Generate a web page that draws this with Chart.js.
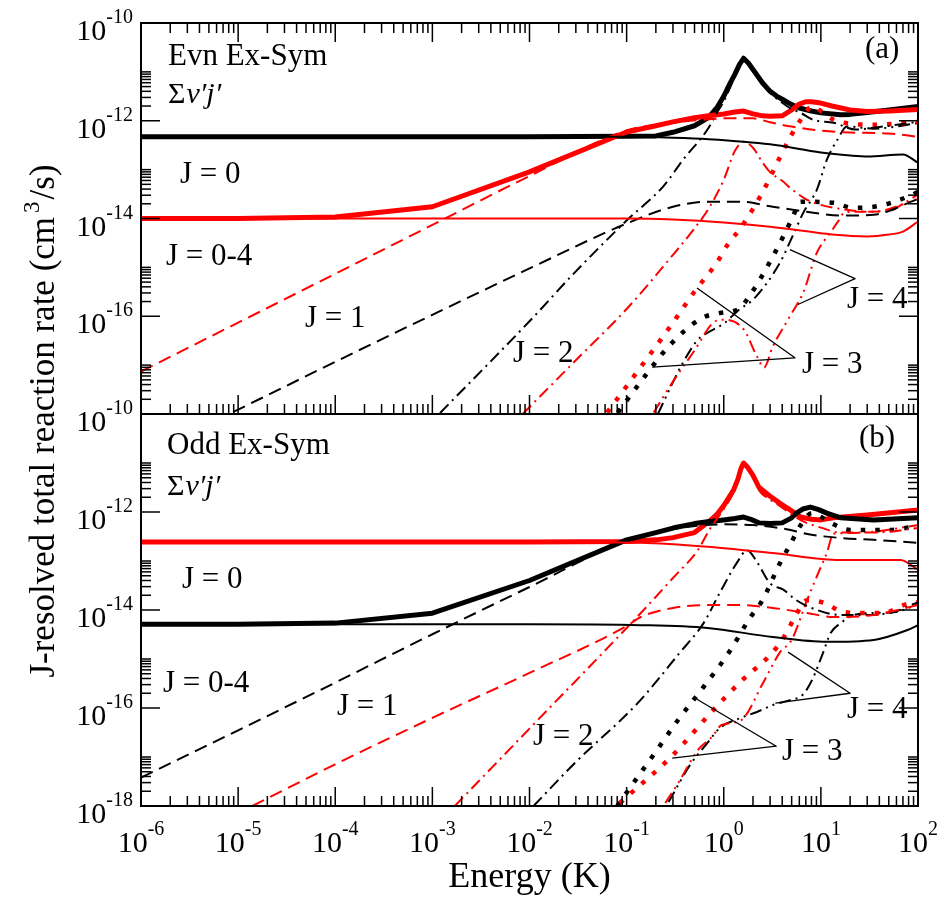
<!DOCTYPE html>
<html><head><meta charset="utf-8">
<script src="https://cdn.jsdelivr.net/npm/chart.js@4.4.1/dist/chart.umd.min.js"></script>
<style>
html,body{margin:0;padding:0;background:#fff;}
#wrap{position:relative;width:945px;height:898px;overflow:hidden;}
canvas{position:absolute;left:0;top:0;}
</style></head><body>
<div id="wrap"><canvas id="cA" width="945" height="898"></canvas><canvas id="cB" width="945" height="898"></canvas></div>
<script>
// ---------- axis ranges & tick labels ----------
const X_MIN = 1e-6, X_MAX = 1e2, Y_MIN = 1e-18, Y_MAX = 1e-10;
const xTickExps = [-6, -5, -4, -3, -2, -1, 0, 1, 2];
const yTickExpsTop = [-10, -12, -14, -16];
const yTickExpsBottom = [-10, -12, -14, -16, -18];

// ---------- panel (a) Evn Ex-Sym : [Energy (K), rate (cm^3/s)] ----------
const aTotBlack = [[1e-6,4.7e-13],[1e-5,4.7e-13],[1e-4,4.7e-13],[1e-3,4.7e-13],[1e-2,4.7e-13],[0.1,4.8e-13],[0.2,4.9e-13],[0.3,5.8e-13],[0.5,7.9e-13],[0.7,1.17e-12],[0.85,1.85e-12],[1,3.16e-12],[1.15,5.6e-12],[1.3,8.9e-12],[1.45,1.41e-11],[1.6,1.9e-11],[1.8,1.5e-11],[2,1.12e-11],[2.5,6.0e-12],[3,4.0e-12],[3.5,3.2e-12],[4,2.75e-12],[5,2.14e-12],[6,1.82e-12],[8,1.58e-12],[10,1.45e-12],[16,1.32e-12],[20,1.35e-12],[30,1.48e-12],[50,1.66e-12],[100,1.95e-12]];
const aTotRed = [[1e-6,1.0e-14],[1e-5,1.0e-14],[1e-4,1.07e-14],[1e-3,1.74e-14],[1e-2,9.0e-14],[0.1,5.9e-13],[0.2,7.9e-13],[0.3,9.5e-13],[0.5,1.15e-12],[0.7,1.26e-12],[1,1.38e-12],[1.3,1.51e-12],[1.6,1.58e-12],[2,1.38e-12],[2.5,1.26e-12],[3,1.23e-12],[4,1.26e-12],[5,1.66e-12],[6,2.19e-12],[7,2.45e-12],[8,2.45e-12],[10,2.3e-12],[13,2.0e-12],[20,1.66e-12],[30,1.55e-12],[50,1.58e-12],[100,1.7e-12]];
const aJ0Black = [[1e-6,4.7e-13],[1e-4,4.7e-13],[1e-2,4.7e-13],[0.1,4.7e-13],[0.3,4.5e-13],[0.7,4.2e-13],[3,3.3e-13],[10,2.24e-13],[20,1.95e-13],[30,1.86e-13],[70,2.04e-13],[100,1.38e-13]];
const aJ0Red = [[1e-6,1e-14],[1e-4,1e-14],[1e-2,1e-14],[0.1,1e-14],[0.3,9.5e-15],[1,8.3e-15],[3,6.8e-15],[10,5.0e-15],[13,4.7e-15],[30,4.3e-15],[50,4.7e-15],[70,5.4e-15],[100,8.7e-15]];
const aJ1Black = [[8.9e-6,1.1e-18],[1e-5,1.23e-18],[1e-4,1.17e-17],[1e-3,1.07e-16],[1e-2,9.5e-16],[0.1,7.9e-15],[0.3,1.74e-14],[0.7,2.2e-14],[1.5,2.2e-14],[3.2,1.74e-14],[7,1.38e-14],[16,1.15e-14],[35,1.2e-14],[100,2.5e-14]];
const aJ1Red = [[1e-6,7.4e-18],[1e-5,7.4e-17],[1e-4,7.4e-16],[1e-3,7.4e-15],[1e-2,7.4e-14],[0.1,6.3e-13],[0.3,9.1e-13],[0.7,1.07e-12],[1,1.12e-12],[2,1.12e-12],[3,9.3e-13],[5,7.6e-13],[10,6.3e-13],[20,5.75e-13],[50,5.5e-13],[100,4.7e-13]];
const aJ2Black = [[1.2e-3,1.05e-18],[1e-2,7.9e-17],[0.03,8.3e-16],[0.1,9.1e-15],[0.24,4.6e-14],[0.38,1.58e-13],[0.68,6.6e-13],[0.85,1.45e-12],[1,2.5e-12],[1.3,7.9e-12],[1.6,1.86e-11],[2,1.1e-11],[2.5,5.75e-12],[3,3.7e-12],[4,2.34e-12],[5,1.74e-12],[6.2,1.45e-12],[8.3,1.05e-12],[13.5,9.1e-13],[23,6.6e-13],[35,7.2e-13],[100,9.5e-13]];
const aJ2Red = [[0.0085,1e-18],[0.03,1.26e-17],[0.1,1.41e-16],[0.3,1.8e-15],[0.5,6.3e-15],[0.7,1.6e-14],[1,6.2e-14],[1.3,2.4e-13],[1.6,3.7e-13],[2,2.8e-13],[2.5,1.41e-13],[3,8.9e-14],[4,5.9e-14],[5,4.0e-14],[7,2.5e-14],[10,1.9e-14],[20,1.48e-14],[30,1.38e-14],[50,1.41e-14],[70,2.0e-14],[100,3.1e-14]];
const aJ3Black = [[0.081,1.07e-18],[0.15,5.5e-18],[0.27,2.4e-17],[0.58,8.9e-17],[0.91,1.17e-16],[1.4,1.38e-16],[1.95,3.1e-16],[3.2,1.66e-15],[5,9.5e-15],[6.2,2.2e-14],[13.5,2.1e-14],[21,1.66e-14],[35,1.74e-14],[89,3.1e-14],[100,3.5e-14]];
const aJ3Red = [[0.063,1.07e-18],[0.1,3.7e-18],[0.3,7.4e-17],[0.5,3.2e-16],[0.85,1.26e-15],[1.1,2.95e-15],[1.5,6.5e-15],[2.5,3.4e-14],[3.8,1.82e-13],[4.8,4.5e-13],[6.2,1.05e-12],[8.3,2.0e-12],[10,1.58e-12],[13.5,1.05e-12],[20,8.7e-13],[35,8.3e-13],[100,9.5e-13]];
const aJ4Black = [[0.21,1e-18],[0.3,4.5e-18],[0.38,1.12e-17],[0.54,3.3e-17],[0.68,4.6e-17],[1,7.1e-17],[1.4,1.3e-16],[2.1,2.4e-16],[3.8,1.26e-15],[5.1,4.3e-15],[6.6,1.32e-14],[9.1,3.9e-14],[11.5,1.58e-13],[14.8,4.1e-13],[18.6,7.6e-13],[35,6.9e-13],[100,8.9e-13]];
const aJ4Red = [[0.19,1.07e-18],[0.3,4.6e-18],[0.5,2.0e-17],[0.78,7.4e-17],[1,8.5e-17],[1.6,5.4e-17],[2.2,1.5e-17],[2.6,8.9e-18],[3.2,2.4e-17],[4.8,1e-16],[6.6,3.1e-16],[9.1,2.0e-15],[12.6,5.2e-15],[14.8,8.3e-15],[17.8,1.35e-14],[35,1.38e-14],[100,2.5e-14]];
const aPtrJ4 = [[4.8,2.3e-15],[22.5,5.9e-16],[5.8,1.74e-16]];
const aPtrJ3 = [[0.53,3.8e-16],[5.4,1.41e-17],[0.183,9.1e-18]];

// ---------- panel (b) Odd Ex-Sym ----------
const bTotBlack = [[1e-6,5.1e-15],[1e-5,5.1e-15],[1e-4,5.4e-15],[1e-3,8.6e-15],[1e-2,4.0e-14],[0.1,2.7e-13],[0.2,3.8e-13],[0.3,4.7e-13],[0.5,5.8e-13],[0.68,6.3e-13],[1,6.9e-13],[1.3,7.4e-13],[1.6,7.9e-13],[1.9,7.1e-13],[2.3,6.0e-13],[3,5.8e-13],[4,6.0e-13],[5,7.6e-13],[5.6,9.5e-13],[6.5,1.15e-12],[7.8,1.26e-12],[9.5,1.12e-12],[11.5,9.5e-13],[16,7.6e-13],[35,6.9e-13],[100,7.6e-13]];
const bTotRed = [[1e-6,2.45e-13],[1e-4,2.45e-13],[1e-2,2.45e-13],[0.1,2.5e-13],[0.2,2.7e-13],[0.3,3.0e-13],[0.5,3.8e-13],[0.7,6.3e-13],[0.85,8.9e-13],[1,1.35e-12],[1.15,2.1e-12],[1.26,2.8e-12],[1.4,4.7e-12],[1.5,7.6e-12],[1.6,1.0e-11],[1.75,8.3e-12],[2,5.6e-12],[2.3,3.2e-12],[3,2.1e-12],[3.8,1.5e-12],[5,1.05e-12],[6.2,7.9e-13],[8,7.1e-13],[10,6.9e-13],[13.5,7.6e-13],[30,8.7e-13],[100,1.1e-12]];
const bJ0Black = [[1e-6,5.1e-15],[1e-2,5.1e-15],[0.14,4.9e-15],[0.68,4.3e-15],[3.2,2.8e-15],[11.5,2.24e-15],[35,2.45e-15],[78,3.9e-15],[100,4.9e-15]];
const bJ0Red = [[1e-6,2.45e-13],[1e-2,2.45e-13],[0.14,2.35e-13],[0.68,1.95e-13],[3.2,1.45e-13],[16,1.05e-13],[66,1.05e-13],[100,6.6e-14]];
const bJ1Black = [[1e-6,3.8e-18],[1e-5,3.5e-17],[1e-4,3.3e-16],[1e-3,3.2e-15],[1e-2,2.95e-14],[0.1,2.6e-13],[0.3,4.5e-13],[1,5.6e-13],[2,5.4e-13],[3.8,4.7e-13],[8.3,3.4e-13],[16,2.95e-13],[35,2.7e-13],[100,2.35e-13]];
const bJ1Red = [[1.4e-5,1e-18],[1e-4,7.1e-18],[1e-3,6.3e-17],[1e-2,5.2e-16],[0.1,4.7e-15],[0.14,7.2e-15],[0.3,1.1e-14],[0.68,1.26e-14],[1.5,1.26e-14],[3.2,1.1e-14],[7.2,8.7e-15],[13.5,7.2e-15],[35,7.9e-15],[100,1.26e-14]];
const bJ2Black = [[0.011,1e-18],[0.03,7.9e-18],[0.13,1.26e-16],[0.35,1.32e-15],[0.62,5.4e-15],[0.91,2.24e-14],[1.38,9.5e-14],[1.74,1.66e-13],[2.2,9.5e-14],[3,3.5e-14],[4.1,2.6e-14],[5.6,1.58e-14],[9.1,1e-14],[16,7.9e-15],[30,7.9e-15],[56,9.1e-15],[100,1.45e-14]];
const bJ2Red = [[0.0017,1e-18],[0.01,3.8e-17],[0.14,8.7e-15],[0.3,4.5e-14],[0.54,1.66e-13],[0.72,4.5e-13],[1,1.15e-12],[1.26,2.5e-12],[1.6,9.3e-12],[2,5.2e-12],[2.3,2.8e-12],[3,1.78e-12],[3.8,1.32e-12],[6.2,6.8e-13],[10,4.8e-13],[16,3.8e-13],[35,3.8e-13],[100,4.7e-13]];
const bJ3Black = [[0.08,1e-18],[0.11,2.45e-18],[0.195,1.2e-17],[0.34,5.75e-17],[0.62,2.7e-16],[1.12,1.32e-15],[1.86,6.9e-15],[2.5,1.58e-14],[3.8,9.1e-14],[4.8,2.1e-13],[6.2,5.4e-13],[8.1,9.5e-13],[12.6,6.0e-13],[20,4.3e-13],[50,4.3e-13],[87,4.9e-13],[100,5.0e-13]];
const bJ3Red = [[0.085,1.15e-18],[0.3,1.1e-17],[0.78,9.1e-17],[1.55,3.7e-16],[3.2,1.38e-15],[4.3,3.1e-15],[5.4,7.2e-15],[7.2,1.58e-14],[11,1.38e-14],[17,9.1e-15],[27.5,8.7e-15],[44,8.7e-15],[71,1.26e-14],[100,1.45e-14]];
const bJ4Black = [[0.27,1.2e-18],[0.45,6.9e-18],[0.68,1.95e-17],[0.91,3.9e-17],[1.5,6.3e-17],[2.2,8.3e-17],[3.2,1.15e-16],[4.8,1.45e-16],[6.5,1.86e-16],[8.1,3.7e-16],[10.5,1.32e-15],[12.6,3.4e-15],[16,5.4e-15],[22,7.9e-15],[35,8.7e-15],[59,9.1e-15],[100,1.32e-14]];
const bJ4Red = [[0.25,1.15e-18],[0.34,2.95e-18],[0.54,1.38e-17],[0.76,2.6e-17],[0.95,4.5e-17],[1.5,5.6e-17],[2.57,3.4e-16],[3.8,1.38e-15],[5,2.45e-15],[7.2,1.58e-14],[10,7.6e-14],[11.5,1.45e-13],[13.5,3.6e-13],[17,3.7e-13],[32,3.9e-13],[100,5.4e-13]];
const bPtrJ4 = [[4.6,1.38e-15],[20,2.0e-16],[3.4,1.26e-16]];
const bPtrJ3 = [[0.53,1.51e-16],[3.47,1.66e-17],[0.295,9.5e-18]];

// ---------- styling ----------
const BLACK = '#000000', RED = '#ff0000';
const FONT = '"Liberation Serif", "Times New Roman", serif';
const STY = {tot:[5,[]], j0:[2,[]], j1:[2,[13,7]], j2:[2,[12,5,2,5]], j3:[4.5,[4.5,10]], j4:[2,[12,5,2,5,2,5]], ptr:[1.3,[]]};

function ds(arr, color, kind){
  const s = STY[kind];
  const linear = (kind === 'ptr' || kind === 'tot');
  return {data: arr.map(p => ({x:p[0], y:p[1]})), borderColor: color, borderWidth: s[0], borderDash: s[1],
    pointRadius: 0, pointHoverRadius: 0, fill: false, borderCapStyle: 'butt', borderJoinStyle: 'round',
    cubicInterpolationMode: linear ? 'default' : 'monotone', tension: 0};
}

function line(c, x1, y1, x2, y2){ c.beginPath(); c.moveTo(x1, y1); c.lineTo(x2, y2); c.stroke(); }

function pow10(c, x, y, exp, align){
  c.font = '30px ' + FONT; const w1 = c.measureText('10').width;
  c.font = '20px ' + FONT; const w2 = c.measureText(exp).width;
  const x0 = align === 'center' ? x - (w1 + w2) / 2 : x - (w1 + w2);
  c.textAlign = 'left'; c.textBaseline = 'alphabetic';
  c.font = '30px ' + FONT; c.fillText('10', x0, y);
  c.font = '20px ' + FONT; c.fillText(exp, x0 + w1, y - 17);
}

function txt(c, s, x, y, size, style){
  c.font = (style ? style + ' ' : '') + size + 'px ' + FONT;
  c.textAlign = 'left'; c.textBaseline = 'alphabetic';
  c.fillText(s, x, y);
}

function sigma(c, x, y){
  c.font = '30px ' + FONT; c.textAlign = 'left'; c.textBaseline = 'alphabetic';
  c.fillText('Σ', x, y);
  const w = c.measureText('Σ').width;
  c.font = 'italic 30px ' + FONT; c.fillText('v′j′', x + w + 1, y);
}

function decoPlugin(cfg){
  return { id: 'deco', afterDatasetsDraw(chart){
    const c = chart.ctx, ca = chart.chartArea, xs = chart.scales.x, ys = chart.scales.y;
    c.save();
    c.setLineDash([]); c.strokeStyle = '#000'; c.fillStyle = '#000';
    c.lineWidth = 1.5;
    for (const e of xTickExps){
      for (let k = 1; k <= 9; k++){
        if (e === 2 && k > 1) break;
        const px = xs.getPixelForValue(k * Math.pow(10, e));
        const L = k === 1 ? 19 : 10;
        line(c, px, ca.bottom, px, ca.bottom - L);
        if (cfg.topTicks) line(c, px, ca.top, px, ca.top + L);
      }
    }
    for (const e of [-18, -16, -14, -12, -10]){
      for (let k = 1; k <= 10; k++){
        if (e === -10 && k > 1) break;
        const py = ys.getPixelForValue(k * Math.pow(10, e));
        const L = k === 1 ? 19 : 10;
        line(c, ca.left, py, ca.left + L, py);
        line(c, ca.right, py, ca.right - L, py);
      }
    }
    c.lineWidth = 2;
    c.strokeRect(ca.left, ca.top, ca.right - ca.left, ca.bottom - ca.top);
    for (const e of cfg.yLabels){
      const py = ys.getPixelForValue(Math.pow(10, e));
      pow10(c, 133, py + 17, String(e), 'right');
    }
    if (cfg.xLabels){
      for (const e of xTickExps){
        const px = xs.getPixelForValue(Math.pow(10, e));
        pow10(c, px, ca.bottom + 46, String(e), 'center');
      }
    }
    for (const t of cfg.texts) txt(c, t[0], t[1], t[2], t[3] || 31);
    sigma(c, cfg.sigma[0], cfg.sigma[1]);
    if (cfg.titles){
      c.font = '36px ' + FONT; c.textAlign = 'center'; c.textBaseline = 'alphabetic';
      c.fillText('Energy (K)', (ca.left + ca.right) / 2, 887);
      c.save();
      c.translate(54, 421); c.rotate(-Math.PI / 2);
      const p1 = 'J-resolved total reaction rate (cm', p2 = '3', p3 = '/s)';
      c.font = '35px ' + FONT; const w1 = c.measureText(p1).width, w3 = c.measureText(p3).width;
      c.font = '23px ' + FONT; const w2 = c.measureText(p2).width;
      const tot = w1 + w2 + w3 + 6; let x0 = -tot / 2;
      c.textAlign = 'left';
      c.font = '35px ' + FONT; c.fillText(p1, x0, 0);
      c.font = '23px ' + FONT; c.fillText(p2, x0 + w1 + 4, -15);
      c.font = '35px ' + FONT; c.fillText(p3, x0 + w1 + w2 + 6, 0);
      c.restore();
    }
    c.restore();
  }};
}

function makeChart(id, datasets, padding, cfg){
  return new Chart(document.getElementById(id), {
    type: 'line',
    data: { datasets },
    options: {
      responsive: false, animation: false, devicePixelRatio: 1, events: [],
      layout: { padding },
      scales: {
        x: { type: 'logarithmic', min: X_MIN, max: X_MAX, display: false },
        y: { type: 'logarithmic', min: Y_MIN, max: Y_MAX, display: false }
      },
      plugins: { legend: { display: false }, tooltip: { enabled: false }, title: { display: false } }
    },
    plugins: [decoPlugin(cfg)]
  });
}

makeChart('cA', [
  ds(aPtrJ4, BLACK, 'ptr'), ds(aPtrJ3, BLACK, 'ptr'),
  ds(aJ0Red, RED, 'j0'), ds(aJ0Black, BLACK, 'j0'),
  ds(aJ1Red, RED, 'j1'), ds(aJ1Black, BLACK, 'j1'),
  ds(aJ2Red, RED, 'j2'), ds(aJ2Black, BLACK, 'j2'),
  ds(aJ3Red, RED, 'j3'), ds(aJ3Black, BLACK, 'j3'),
  ds(aJ4Red, RED, 'j4'), ds(aJ4Black, BLACK, 'j4'),
  ds(aTotRed, RED, 'tot'), ds(aTotBlack, BLACK, 'tot')
], {left: 141, right: 27, top: 23, bottom: 898 - 414}, {
  topTicks: true, xLabels: false, titles: false, yLabels: yTickExpsTop,
  texts: [['Evn Ex-Sym', 168, 65], ['(a)', 865, 58], ['J = 0', 180, 183], ['J = 0-4', 166, 265],
          ['J = 1', 305, 327], ['J = 2', 513, 362], ['J = 3', 802, 373], ['J = 4', 847, 308]],
  sigma: [168, 103]
});

makeChart('cB', [
  ds(bPtrJ4, BLACK, 'ptr'), ds(bPtrJ3, BLACK, 'ptr'),
  ds(bJ0Red, RED, 'j0'), ds(bJ0Black, BLACK, 'j0'),
  ds(bJ1Red, RED, 'j1'), ds(bJ1Black, BLACK, 'j1'),
  ds(bJ2Red, RED, 'j2'), ds(bJ2Black, BLACK, 'j2'),
  ds(bJ3Red, RED, 'j3'), ds(bJ3Black, BLACK, 'j3'),
  ds(bJ4Red, RED, 'j4'), ds(bJ4Black, BLACK, 'j4'),
  ds(bTotBlack, BLACK, 'tot'), ds(bTotRed, RED, 'tot')
], {left: 141, right: 27, top: 414, bottom: 898 - 806}, {
  topTicks: false, xLabels: true, titles: true, yLabels: yTickExpsBottom,
  texts: [['Odd Ex-Sym', 167, 454], ['(b)', 859, 447], ['J = 0', 182, 588], ['J = 0-4', 163, 692],
          ['J = 1', 337, 715], ['J = 2', 533, 745], ['J = 3', 782, 760], ['J = 4', 847, 718]],
  sigma: [167, 495]
});
</script>
</body></html>
